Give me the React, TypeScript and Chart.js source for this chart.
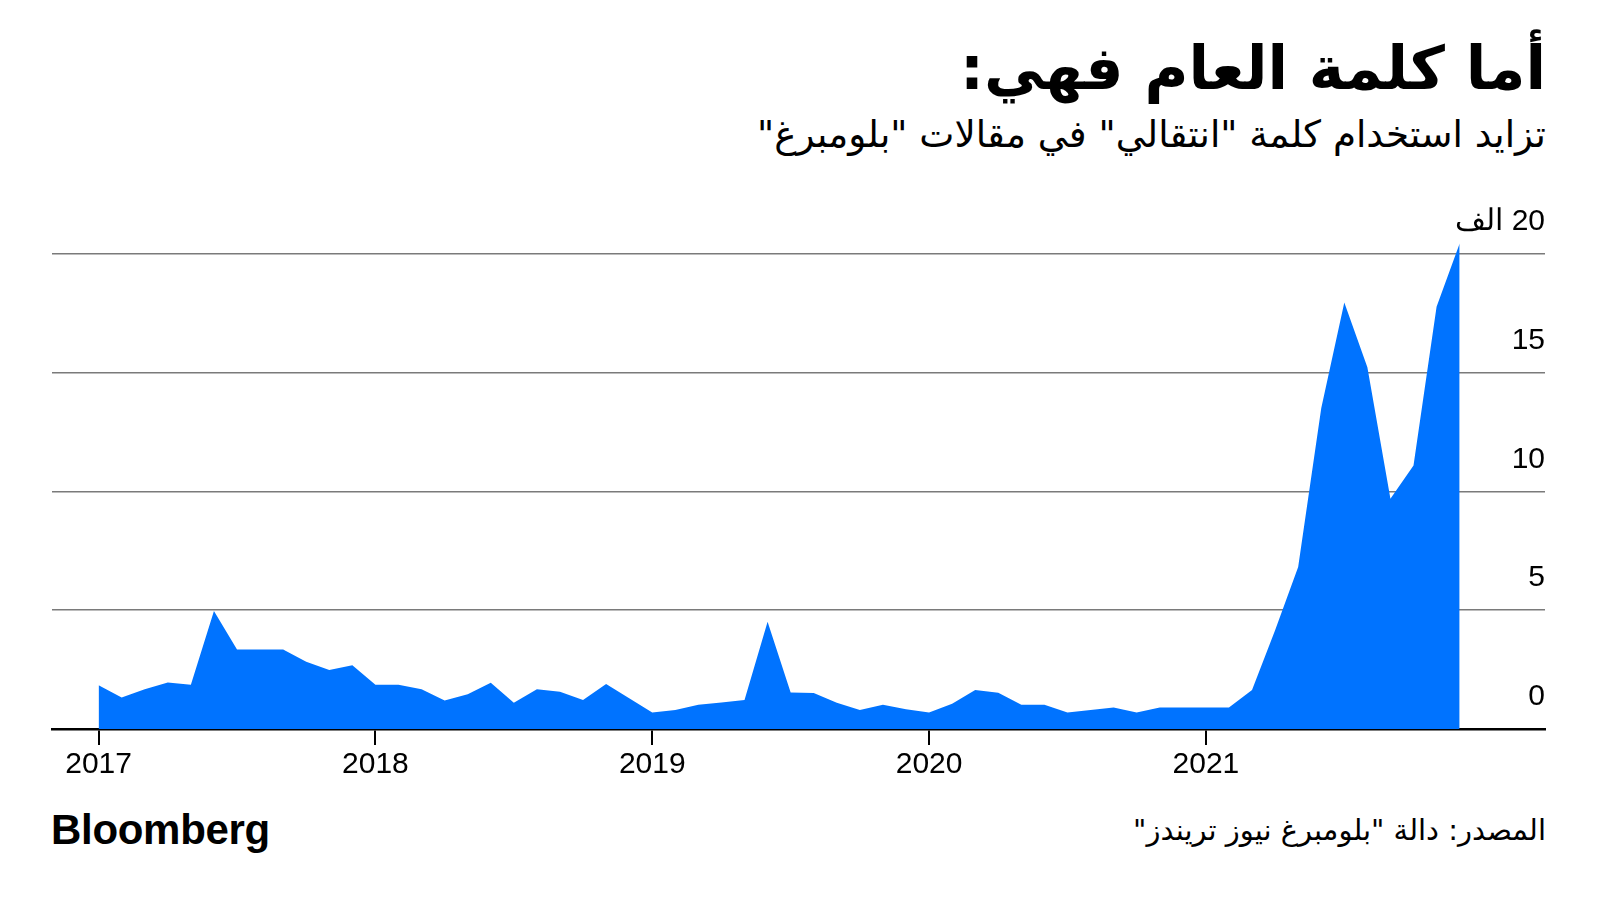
import React, { useEffect, useRef } from "react";
import { Chart, registerables } from "chart.js";

Chart.register(...registerables);

// Monthly mentions (thousands), Jan–Dec of each year
const V2017 = [1.84, 1.33, 1.67, 1.96, 1.86, 4.97, 3.35, 3.35, 3.35, 2.83, 2.48, 2.68];
const V2018 = [1.86, 1.86, 1.67, 1.2, 1.46, 1.95, 1.1, 1.67, 1.57, 1.22, 1.89, 1.29];
const V2019 = [0.69, 0.8, 1.02, 1.12, 1.22, 4.51, 1.54, 1.52, 1.1, 0.8, 1.02, 0.83];
const V2020 = [0.69, 1.06, 1.64, 1.53, 1.02, 1.02, 0.69, 0.8, 0.91, 0.69, 0.91, 0.91];
const V2021 = [0.91, 0.91, 1.64, 4.16, 6.82, 13.5, 17.95, 15.22, 9.69, 11.09, 17.77, 20.43];

const YEAR_LABELS = ["2017", "2018", "2019", "2020", "2021"];
const YEAR_TICK_INDEX = [0, 12, 24, 36, 48];
const Y_TICKS = [0, 5, 10, 15, 20];
const Y_TICK_LABELS = ["0", "5", "10", "15", "\u200F20 الف"];

const TITLE = "أما كلمة العام فهي:";
const SUBTITLE = 'تزايد استخدام كلمة "انتقالي" في مقالات "بلومبرغ"';
const SOURCE = 'المصدر: دالة "بلومبرغ نيوز تريندز"';

const SERIES = [...V2017, ...V2018, ...V2019, ...V2020, ...V2021];

const LATIN = "'Liberation Sans', Arial, sans-serif";
const ARABIC = "'DejaVu Sans', 'Noto Sans', sans-serif";

export default function App() {
  const ref = useRef<HTMLCanvasElement | null>(null);

  useEffect(() => {
    if (!ref.current) return;
    const points = SERIES.map((y, i) => ({ x: i, y }));
    const chart = new Chart(ref.current, {
      type: "line",
      data: {
        datasets: [
          {
            data: points,
            fill: "origin",
            backgroundColor: "#0073ff",
            borderWidth: 0,
            borderColor: "#0073ff",
            pointRadius: 0,
            tension: 0,
          },
        ],
      },
      options: {
        animation: false,
        responsive: false,
        maintainAspectRatio: false,
        layout: { padding: { left: 52, right: 55, top: 230, bottom: 0 } },
        plugins: { legend: { display: false }, tooltip: { enabled: false } },
        scales: {
          x: {
            type: "linear",
            min: -2.02,
            max: 62.7,
            z: 1,
            afterBuildTicks: (s: any) => {
              s.ticks = YEAR_TICK_INDEX.map((v) => ({ value: v }));
            },
            afterFit: (s: any) => {
              s.height = 71;
            },
            ticks: {
              callback: (_v: any, i: number) => YEAR_LABELS[i],
              font: { family: LATIN, size: 30 },
              color: "#000",
              padding: 2,
              maxRotation: 0,
              autoSkip: false,
            },
            grid: {
              drawOnChartArea: false,
              drawTicks: true,
              tickLength: 16,
              color: "#000",
              lineWidth: 2,
            },
            border: { display: true, color: "#000", width: 2.5 },
          },
          y: {
            position: "right",
            min: 0,
            max: 21,
            afterBuildTicks: (s: any) => {
              s.ticks = Y_TICKS.map((v) => ({ value: v }));
            },
            afterFit: (s: any) => {
              s.width = 0;
            },
            ticks: {
              mirror: true,
              padding: 0,
              labelOffset: -32,
              crossAlign: "near",
              callback: (_v: any, i: number) => Y_TICK_LABELS[i],
              font: { family: LATIN, size: 30 },
              color: "#000",
            },
            grid: { color: "#7a7a7a", lineWidth: 1.5, drawTicks: false },
            border: { display: false },
          },
        },
      },
    } as any);
    return () => chart.destroy();
  }, []);

  return (
    <div
      style={{
        position: "fixed",
        left: 0,
        top: 0,
        width: 1600,
        height: 912,
        background: "#fff",
        overflow: "hidden",
      }}
    >
      <div
        dir="rtl"
        style={{
          position: "absolute",
          right: 54,
          top: 32,
          fontFamily: ARABIC,
          fontWeight: 700,
          fontSize: 60,
          lineHeight: 1.2,
          color: "#000",
          whiteSpace: "nowrap",
        }}
      >
        {TITLE}
      </div>
      <div
        dir="rtl"
        style={{
          position: "absolute",
          right: 54,
          top: 112,
          fontFamily: ARABIC,
          fontSize: 37.3,
          lineHeight: 1.2,
          color: "#000",
          whiteSpace: "nowrap",
        }}
      >
        {SUBTITLE}
      </div>
      <canvas
        ref={ref}
        width={1600}
        height={800}
        style={{ position: "absolute", left: 0, top: 0, width: 1600, height: 800, display: "block" }}
      />
      <div
        style={{
          position: "absolute",
          left: 51,
          top: 805,
          fontFamily: LATIN,
          fontWeight: 700,
          fontSize: 42,
          letterSpacing: -0.3,
          lineHeight: 1.2,
          color: "#000",
        }}
      >
        Bloomberg
      </div>
      <div
        dir="rtl"
        style={{
          position: "absolute",
          right: 54,
          top: 813,
          fontFamily: ARABIC,
          fontSize: 29,
          lineHeight: 1.2,
          color: "#000",
          whiteSpace: "nowrap",
        }}
      >
        {SOURCE}
      </div>
    </div>
  );
}
